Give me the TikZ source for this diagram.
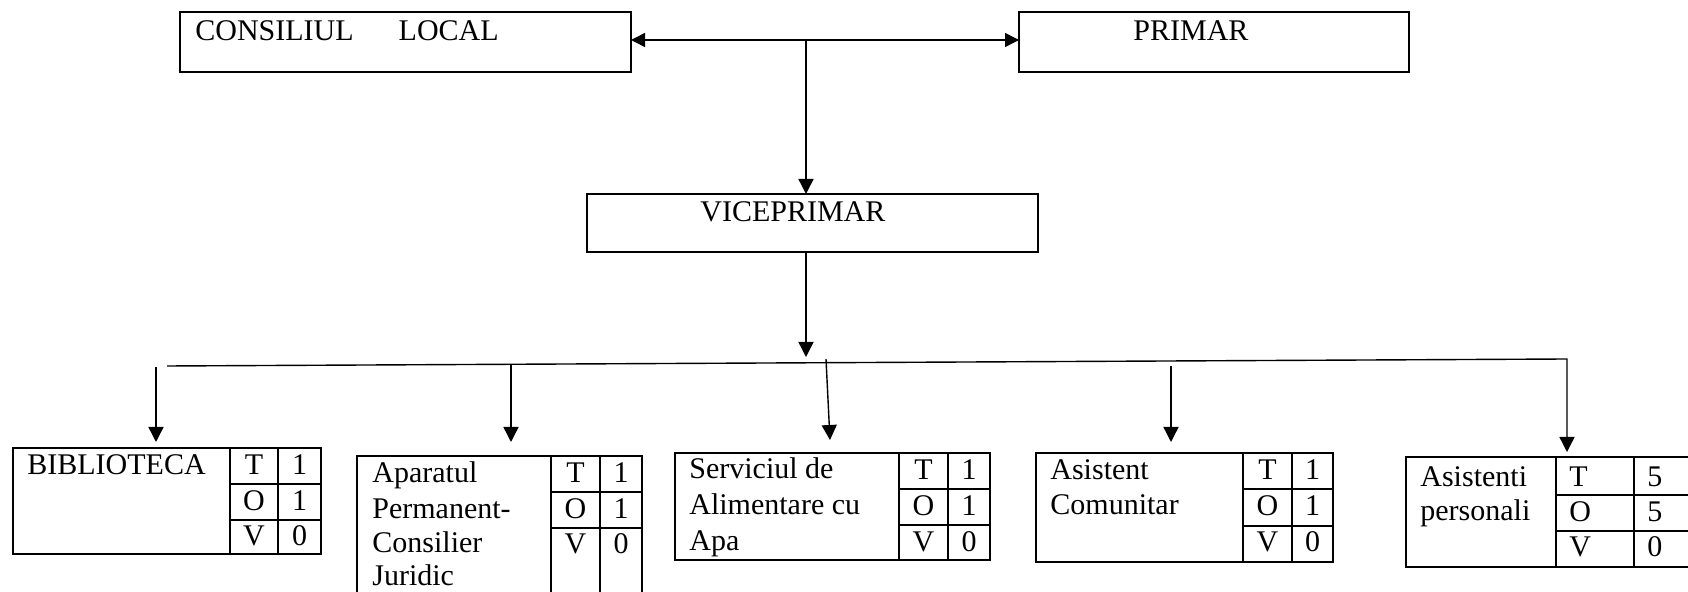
\documentclass[tikz,border=0pt]{standalone}
\usepackage{fontspec}
\setmainfont{Liberation Serif}
\usetikzlibrary{arrows.meta}
\begin{document}
\begin{tikzpicture}[x=0.5pt,y=-0.5pt,
  boxst/.style={draw, line width=1.1pt, inner sep=0pt, outer sep=0pt, anchor=north west},
  lbl/.style={inner sep=0pt, anchor=base west, font=\fontsize{15pt}{17.5pt}\selectfont},
  cell/.style={inner sep=0pt, anchor=base, font=\fontsize{15pt}{17.5pt}\selectfont},
  cellw/.style={inner sep=0pt, anchor=base west, font=\fontsize{15pt}{17.5pt}\selectfont},
  gridln/.style={line width=1pt},
  conn/.style={line width=0.7pt},
  arr/.style={conn, -{Triangle[length=7.5pt,width=7.5pt]}},
  arrb/.style={conn, {Triangle[length=7pt,width=7pt]}-{Triangle[length=7pt,width=7pt]}}]
\useasboundingbox (0,0) rectangle (1688,592);
\clip (0,0) rectangle (1688,592);

% top boxes
\node[boxst, minimum width=225.5pt, minimum height=30pt] (cons) at (180,12) {};
\node[lbl] (consT) at (195,41) {CONSILIUL\hspace{22.5pt}LOCAL};
\node[boxst, minimum width=195pt, minimum height=30pt] (prim) at (1019,12) {};
\node[lbl] (primT) at (1133,41) {PRIMAR};
\node[boxst, minimum width=225.5pt, minimum height=29pt] (vice) at (587,194) {};
\node[lbl] (viceT) at (700,222) {VICEPRIMAR};

% bottom boxes
\node[boxst, minimum width=154pt, minimum height=53pt] (bib) at (13,448) {};
\draw[gridln] (230,448) -- (230,554) (278,448) -- (278,554) (230,484) -- (321,484) (230,520) -- (321,520);
\node[lbl] (bibT) at (27,475) {BIBLIOTECA};
\node[cell] (bib1) at (254,475) {T};
\node[cell] (bib2) at (254,511) {O};
\node[cell] (bib3) at (254,546) {V};
\node[cell] (bib4) at (299.5,475) {1};
\node[cell] (bib5) at (299.5,511) {1};
\node[cell] (bib6) at (299.5,546) {0};

\node[boxst, minimum width=142.5pt, minimum height=74pt] (apa) at (357,456) {};
\draw[gridln] (551,456) -- (551,610) (600,456) -- (600,610) (551,492) -- (642,492) (551,528) -- (642,528);
\node[lbl] (apaT1) at (372,483) {Aparatul};
\node[lbl] (apaT2) at (372,519) {Permanent-};
\node[lbl] (apaT3) at (372,553) {Consilier};
\node[lbl] (apaT4) at (372,586) {Juridic};
\node[cell] (apa1) at (575.5,483) {T};
\node[cell] (apa2) at (575.5,519) {O};
\node[cell] (apa3) at (575.5,554) {V};
\node[cell] (apa4) at (621,483) {1};
\node[cell] (apa5) at (621,519) {1};
\node[cell] (apa6) at (621,554) {0};

\node[boxst, minimum width=157.5pt, minimum height=53.5pt] (ser) at (675,453) {};
\draw[gridln] (899,453) -- (899,560) (948,453) -- (948,560) (899,489) -- (990,489) (899,525) -- (990,525);
\node[lbl] (serT1) at (689,479) {Serviciul de};
\node[lbl] (serT2) at (689,515) {Alimentare cu};
\node[lbl] (serT3) at (689,551) {Apa};
\node[cell] (ser1) at (923.5,480) {T};
\node[cell] (ser2) at (923.5,516) {O};
\node[cell] (ser3) at (923.5,552) {V};
\node[cell] (ser4) at (969,480) {1};
\node[cell] (ser5) at (969,516) {1};
\node[cell] (ser6) at (969,552) {0};

\node[boxst, minimum width=148.5pt, minimum height=54.5pt] (ast) at (1036,453) {};
\draw[gridln] (1243,453) -- (1243,562) (1292,453) -- (1292,562) (1243,489) -- (1333,489) (1243,526) -- (1333,526);
\node[lbl] (astT1) at (1050,480) {Asistent};
\node[lbl] (astT2) at (1050,515) {Comunitar};
\node[cell] (ast1) at (1267.5,480) {T};
\node[cell] (ast2) at (1267.5,516) {O};
\node[cell] (ast3) at (1267.5,552) {V};
\node[cell] (ast4) at (1312.5,480) {1};
\node[cell] (ast5) at (1312.5,516) {1};
\node[cell] (ast6) at (1312.5,552) {0};

\node[boxst, minimum width=143pt, minimum height=55pt] (asp) at (1406,457) {};
\draw[gridln] (1556,457) -- (1556,567) (1634,457) -- (1634,567) (1556,495) -- (1692,495) (1556,531) -- (1692,531);
\node[lbl] (aspT1) at (1420,487) {Asistenti};
\node[lbl] (aspT2) at (1420,521) {personali};
\node[cellw] (asp1) at (1569,487) {T};
\node[cellw] (asp2) at (1569,522) {O};
\node[cellw] (asp3) at (1569,557) {V};
\node[cellw] (asp4) at (1647,487) {5};
\node[cellw] (asp5) at (1647,522) {5};
\node[cellw] (asp6) at (1647,557) {0};

% connectors
\coordinate (mid) at (806,40);
\draw[arrb] (cons.east |- mid) -- (prim.west |- mid);
\draw[arr] (mid) -- (vice.north -| mid);
\coordinate (vt) at (806,357);
\draw[arr] (vice.south -| vt) -- (vt);
\coordinate (hl) at (167,366);
\coordinate (hr) at (1567,359);
\draw[arr, shorten >=2.5pt] (hl) -- (hr) -- (hr |- asp.north);
\coordinate (a1) at (156,367);
\draw[arr, shorten >=3pt] (a1) -- (a1 |- bib.north);
\coordinate (a2) at (511,364);
\draw[arr, shorten >=7pt] (a2) -- (a2 |- apa.north);
\coordinate (a3) at (826,359);
\coordinate (a3e) at (830,440);
\draw[arr] (a3) -- (a3e);
\coordinate (a4) at (1171,366);
\draw[arr, shorten >=5.5pt] (a4) -- (a4 |- ast.north);
\end{tikzpicture}
\end{document}
